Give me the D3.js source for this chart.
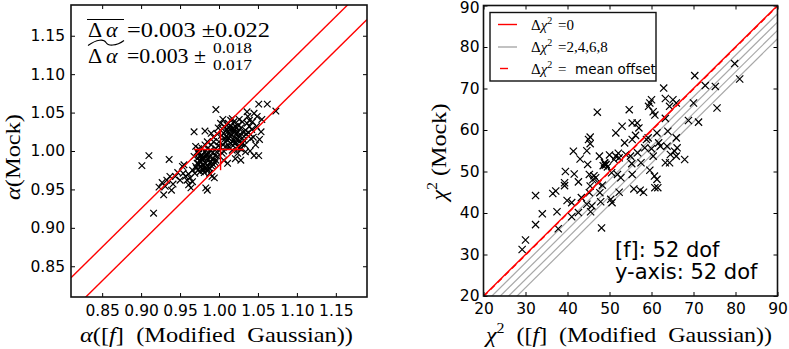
<!DOCTYPE html>
<html><head><meta charset="utf-8">
<script src="https://cdn.jsdelivr.net/npm/d3@7"></script>
<style>body{margin:0;background:#fff} svg{display:block}</style>
</head><body><svg id="c" width="789" height="349"></svg>
<script>
// ---------- DATA ----------
const alphaFG = [0.901,0.910,0.916,0.923,0.929,0.936,0.939,0.933,0.937,0.927,0.931,0.953,0.955,0.954,0.957,0.959,0.961,0.964,0.966,0.963,
0.968,0.982,0.983,0.985,0.996,0.970,0.972,0.974,0.976,0.979,0.972,0.976,0.981,0.983,0.985,0.987,0.989,0.991,0.994,0.988,
0.968,0.970,0.973,0.976,0.979,0.975,0.978,0.982,0.985,0.990,0.993,0.980,0.984,0.988,0.992,0.995,0.997,0.991,0.986,0.995,
1.002,1.004,1.006,1.009,1.011,1.013,1.015,1.017,1.019,1.021,1.024,1.026,1.019,1.021,1.024,1.028,1.030,1.032,1.034,1.036,
1.039,1.043,1.039,1.049,1.045,1.036,1.051,1.062,1.073,1.054,1.047,1.045,1.051,1.021,1.028,1.034,1.041,1.015,1.011,1.006,
1.004,0.998,0.996,1.009,1.015,1.017,1.024,1.008,1.012,1.016,1.020,1.023,1.027,1.031,1.028,1.025,1.010,1.007,1.003,1.000,
1.002,1.005,1.013,1.018,1.022,1.030,1.037,1.026,1.033,1.040,1.038,1.042,1.019,1.012,1.005,0.999,0.998,0.993,0.990,0.985,
0.982,0.978,0.974,0.980,0.984,0.988,0.992,0.996,0.999,0.961,0.966,0.969,0.944,0.947,0.950,0.941,1.048,1.055,1.044,1.052,
0.971,0.974,0.977,0.980,0.983,0.986,0.973,0.978,0.981,0.987,0.990,0.993,0.977,0.984,1.008,1.011,1.014,1.017,1.020,1.023,
1.026,1.029,1.014,1.018,1.022,1.026,1.010,1.032,1.035,1.006];
const alphaMock = [0.981,0.994,0.919,0.953,0.943,0.989,0.949,0.962,0.967,0.959,0.954,0.980,0.982,0.971,0.967,0.962,0.956,0.952,0.960,0.965,
1.025,1.026,0.952,0.949,1.054,1.006,0.999,1.003,0.993,0.988,0.984,0.980,0.978,0.984,0.990,0.997,1.001,0.967,0.965,0.971,
0.993,0.980,0.975,0.973,0.982,0.987,0.995,0.999,1.003,1.008,1.012,0.975,0.978,0.985,0.990,0.994,0.999,0.980,0.975,0.985,
1.036,1.029,1.023,1.019,1.014,1.023,1.032,1.042,1.038,1.032,1.025,1.021,1.014,1.010,1.006,1.003,1.010,1.019,1.027,1.036,
1.040,1.038,1.032,1.045,1.049,1.051,1.061,1.061,1.052,1.025,1.008,0.994,0.994,0.990,0.988,0.999,1.016,1.040,0.984,0.988,
0.997,0.993,0.988,1.006,1.010,1.001,0.997,1.012,1.017,1.021,1.018,1.015,1.013,1.024,1.030,1.034,1.028,1.032,1.020,1.012,
1.005,1.008,1.005,1.007,1.022,1.038,1.045,1.041,1.008,1.000,1.024,1.028,1.027,1.036,1.041,1.030,1.022,1.018,1.023,1.012,
1.008,1.004,0.997,0.992,0.996,0.992,0.998,1.003,1.007,0.970,0.975,0.971,0.967,0.972,0.962,0.957,1.032,1.041,1.018,1.015,
0.978,0.983,0.986,0.990,0.993,0.980,0.991,0.977,0.972,0.978,0.986,0.982,0.990,0.994,1.016,1.025,1.028,1.012,1.024,1.030,
1.018,1.009,1.020,1.030,1.011,1.004,1.034,1.014,1.022,1.000];
const alphaTicks = [0.85,0.90,0.95,1.00,1.05,1.10,1.15];
const alphaDomain = [0.81,1.19];
const alphaMeanOffset = 0.003, alphaSpread = 0.022;
const alphaCross = {x:1.002, y:1.002, xLo:0.968, xHi:1.032, yLo:0.975, yHi:1.028};

const chiFG = [29.2,30.0,32.4,32.4,34.0,36.5,37.2,37.8,37.5,39.3,39.5,39.9,39.3,41.0,41.0,41.4,41.6,42.6,42.6,43.0,
43.3,45.0,45.4,45.4,44.6,44.8,45.2,45.4,45.2,45.8,45.5,44.6,46.3,46.7,47.1,47.6,47.7,47.9,48.1,48.3,
47.3,48.8,49.2,49.5,48.5,50.5,50.3,50.6,51.1,51.5,51.5,52.1,52.3,51.9,52.7,52.3,53.0,53.6,53.9,54.7,
55.0,55.3,55.4,55.4,55.4,55.8,56.2,56.6,56.7,57.0,57.3,57.5,58.1,58.4,58.8,59.2,59.3,59.6,60.0,59.6,
60.0,60.4,60.4,60.7,60.8,61.3,61.5,60.8,61.3,61.7,62.1,62.9,63.3,63.3,63.3,63.7,63.9,64.3,64.3,64.5,
65.1,65.9,65.9,65.5,65.9,66.1,67.9,68.8,70.0,70.3,71.2,72.8,75.2,75.6,79.8,81.0,48.9,49.0,46.0,50.0];
const chiMock = [31.2,33.5,44.2,37.2,39.8,44.7,45.3,36.2,40.3,47.3,50.0,43.0,46.6,42.5,39.1,54.9,49.4,47.5,40.1,53.0,
43.7,57.7,58.3,56.7,55.0,51.7,49.3,46.5,44.9,41.7,40.3,42.1,49.0,48.5,64.3,53.7,44.9,42.7,36.4,46.7,
47.3,52.1,51.7,51.1,51.4,49.7,43.3,42.5,52.9,53.7,59.3,54.4,53.3,49.3,48.5,45.0,60.9,56.9,54.1,64.9,
53.7,51.9,49.3,61.7,57.7,45.8,58.7,61.7,54.5,60.5,45.5,52.1,45.0,55.7,57.7,58.1,65.7,66.5,67.3,50.3,
55.5,64.4,53.7,48.9,46.1,48.1,46.1,63.6,59.3,56.9,56.1,70.1,62.8,67.6,52.1,56.1,59.7,65.7,52.1,54.1,
67.3,66.5,58.1,54.9,53.7,55.7,52.9,62.3,66.5,73.1,61.9,70.7,70.5,65.3,76.0,72.3,52.0,51.5,48.0,54.0];
const chiTicks = [20,30,40,50,60,70,80,90];
const chiDomain = [20,90];
const chiOffsets = [2,4,6,8];
const chiMeanOffset = -0.15;

// ---------- DRAW ----------
const svg = d3.select("#c");
const TICKFONT = "'DejaVu Sans', sans-serif";
const SERIF = "'Liberation Serif', 'DejaVu Serif', serif";

function panel(cfg){
  const g = svg.append("g");
  const x = d3.scaleLinear(cfg.domain, [cfg.x0, cfg.x1]);
  const y = d3.scaleLinear(cfg.domain, [cfg.y1, cfg.y0]);
  const id = "clip" + cfg.name;
  svg.append("clipPath").attr("id", id).append("rect")
    .attr("x", cfg.x0).attr("y", cfg.y0).attr("width", cfg.x1-cfg.x0).attr("height", cfg.y1-cfg.y0);
  const plot = g.append("g").attr("clip-path", `url(#${id})`);
  const fmt = cfg.fmt;
  const ax = [
    [d3.axisBottom(x).tickValues(cfg.ticks).tickFormat(fmt).tickSize(-4).tickPadding(cfg.padB), `translate(0,${cfg.y1})`, "b"],
    [d3.axisTop(x).tickValues(cfg.ticks).tickFormat("").tickSize(-4), `translate(0,${cfg.y0})`, "t"],
    [d3.axisLeft(y).tickValues(cfg.ticks).tickFormat(fmt).tickSize(-4).tickPadding(cfg.padL), `translate(${cfg.x0},0)`, "l"],
    [d3.axisRight(y).tickValues(cfg.ticks).tickFormat("").tickSize(-4), `translate(${cfg.x1},0)`, "r"]
  ];
  ax.forEach(([a,t,side])=>{
    const ag = g.append("g").attr("transform", t).call(a);
    ag.select(".domain").remove();
    ag.selectAll("line").attr("stroke","#000").attr("stroke-width",1);
    ag.selectAll("text").attr("font-family", TICKFONT).attr("font-size", cfg.tickSize).attr("fill","#000");
    if(side==="l" && cfg.topNudge){
      ag.selectAll(".tick").filter(d=>d===cfg.domain[1]).select("text").attr("dy","0.42em");
    }
  });
  return {g, plot, x, y};
}

function crosses(plot, x, y, xs, ys, s){
  plot.append("g").selectAll("path").data(xs.map((v,i)=>[v, ys[i]])).join("path")
    .attr("d", d=>{const cx=x(d[0]), cy=y(d[1]); return `M${cx-s},${cy-s}L${cx+s},${cy+s}M${cx-s},${cy+s}L${cx+s},${cy-s}`;})
    .attr("stroke","#000").attr("stroke-width",1.2).attr("fill","none");
}

// ----- Left panel -----
const L = panel({name:"L", domain:alphaDomain, x0:71, x1:367, y0:5, y1:297, ticks:alphaTicks,
  fmt:d3.format(".2f"), padB:8, padL:6, tickSize:"15.5px"});
crosses(L.plot, L.x, L.y, alphaFG, alphaMock, 3.3);
[alphaMeanOffset+alphaSpread, alphaMeanOffset-alphaSpread].forEach(off=>{
  L.plot.append("line")
    .attr("x1", L.x(alphaDomain[0])).attr("y1", L.y(alphaDomain[0]+off))
    .attr("x2", L.x(alphaDomain[1])).attr("y2", L.y(alphaDomain[1]+off))
    .attr("stroke","red").attr("stroke-width",1.4);
});
L.plot.append("line").attr("x1",L.x(alphaCross.xLo)).attr("x2",L.x(alphaCross.xHi))
  .attr("y1",L.y(alphaCross.y)).attr("y2",L.y(alphaCross.y)).attr("stroke","red").attr("stroke-width",1.4);
L.plot.append("line").attr("x1",L.x(alphaCross.x)).attr("x2",L.x(alphaCross.x))
  .attr("y1",L.y(alphaCross.yLo)).attr("y2",L.y(alphaCross.yHi)).attr("stroke","red").attr("stroke-width",1.4);
L.g.append("rect").attr("x",71).attr("y",5).attr("width",296).attr("height",292)
  .attr("fill","none").attr("stroke","#111").attr("stroke-width",1.6);

// annotation text
const ann = L.g.append("g").attr("font-family", SERIF).attr("fill","#000");
function da(yb){
  ann.append("text").attr("x",88).attr("y",yb).attr("font-size","22px").text("Δ");
  ann.append("text").attr("x",106).attr("y",yb).attr("font-size","22px").attr("font-style","italic").text("α");
}
da(37); da(63);
ann.append("line").attr("x1",87).attr("x2",124).attr("y1",19.5).attr("y2",19.5).attr("stroke","#000").attr("stroke-width",1.2);
ann.append("path").attr("d","M88,45.5 C97,39 104,39 106,42.5 C108,46 116,46.5 124,40.5")
  .attr("fill","none").attr("stroke","#000").attr("stroke-width",1.1);
ann.append("text").attr("x",127).attr("y",37).attr("font-size","21px")
  .attr("textLength",143).attr("lengthAdjust","spacingAndGlyphs").text("=0.003 ±0.022");
ann.append("text").attr("x",127).attr("y",63).attr("font-size","21px")
  .attr("textLength",79).attr("lengthAdjust","spacingAndGlyphs").text("=0.003 ±");
ann.append("text").attr("x",213).attr("y",53).attr("font-size","14px")
  .attr("textLength",39).attr("lengthAdjust","spacingAndGlyphs").text("0.018");
ann.append("text").attr("x",213).attr("y",70).attr("font-size","14px")
  .attr("textLength",39).attr("lengthAdjust","spacingAndGlyphs").text("0.017");

// axis labels
const lx = svg.append("text").attr("x",80).attr("y",342)
  .attr("font-family",SERIF).attr("font-size","21px")
  .attr("textLength",273).attr("lengthAdjust","spacingAndGlyphs");
lx.append("tspan").attr("font-style","italic").text("α");
lx.append("tspan").text("([");
lx.append("tspan").attr("font-style","italic").text("f");
lx.append("tspan").text("]\u2002(Modified\u2002Gaussian))");
const ly = svg.append("text").attr("transform","translate(20,157) rotate(-90)").attr("text-anchor","middle")
  .attr("font-family",SERIF).attr("font-size","22px")
  .attr("textLength",86).attr("lengthAdjust","spacingAndGlyphs");
ly.append("tspan").attr("font-style","italic").text("α");
ly.append("tspan").text("(Mock)");

// ----- Right panel -----
const R = panel({name:"R", domain:chiDomain, x0:483.5, x1:777.5, y0:5.5, y1:296, ticks:chiTicks,
  fmt:d3.format("d"), padB:7, padL:4, tickSize:"15.5px", topNudge:true});
chiOffsets.forEach(k=>{
  R.plot.append("line")
    .attr("x1",R.x(chiDomain[0])).attr("y1",R.y(chiDomain[0]-k))
    .attr("x2",R.x(chiDomain[1])).attr("y2",R.y(chiDomain[1]-k))
    .attr("stroke","#a8a8a8").attr("stroke-width",1.2);
});
crosses(R.plot, R.x, R.y, chiFG, chiMock, 3.6);
R.plot.append("line")
  .attr("x1",R.x(chiDomain[0])).attr("y1",R.y(chiDomain[0]))
  .attr("x2",R.x(chiDomain[1])).attr("y2",R.y(chiDomain[1]))
  .attr("stroke","red").attr("stroke-width",1.4);
R.plot.append("line")
  .attr("x1",R.x(chiDomain[0])).attr("y1",R.y(chiDomain[0]+chiMeanOffset))
  .attr("x2",R.x(chiDomain[1])).attr("y2",R.y(chiDomain[1]+chiMeanOffset))
  .attr("stroke","red").attr("stroke-width",1.3).attr("stroke-dasharray","6,4");
R.g.append("rect").attr("x",483.5).attr("y",5.5).attr("width",294).attr("height",290.5)
  .attr("fill","none").attr("stroke","#111").attr("stroke-width",1.6);

// legend
const leg = R.g.append("g");
leg.append("rect").attr("x",490).attr("y",12.5).attr("width",166).attr("height",68.5)
  .attr("fill","#fff").attr("stroke","#111").attr("stroke-width",1.4);
const legItems = [
  {color:"red", dash:false, rest:"=0", sans:false, yy:24.5},
  {color:"#a8a8a8", dash:false, rest:"=2,4,6,8", sans:false, yy:47},
  {color:"red", dash:true, rest:"= ", sans:true, yy:68.5}
];
legItems.forEach(it=>{
  leg.append("line").attr("x1", it.dash?500:498).attr("x2", it.dash?508:517)
    .attr("y1",it.yy).attr("y2",it.yy).attr("stroke",it.color).attr("stroke-width",1.4);
  const t = leg.append("text").attr("x",531).attr("y",it.yy+5).attr("font-family",SERIF).attr("font-size","15px");
  t.append("tspan").text("Δ");
  t.append("tspan").attr("font-style","italic").text("χ");
  t.append("tspan").attr("font-size","10px").attr("dy",-6).text("2");
  t.append("tspan").attr("x",558).attr("dy",6).text(it.rest);
  if(it.sans){
    leg.append("text").attr("x",575).attr("y",it.yy+5).attr("font-family",TICKFONT)
      .attr("font-size","13.5px").text("mean offset");
  }
});

// dof text
const dof = R.g.append("g").attr("font-family",TICKFONT).attr("font-size","21px");
dof.append("text").attr("x",615).attr("y",257).text("[f]: 52 dof");
dof.append("text").attr("x",615).attr("y",279).text("y-axis: 52 dof");

// axis labels
const rx = svg.append("text").attr("x",486).attr("y",342)
  .attr("font-family",SERIF).attr("font-size","21px")
  .attr("textLength",286).attr("lengthAdjust","spacingAndGlyphs");
rx.append("tspan").attr("font-style","italic").text("χ");
rx.append("tspan").attr("font-size","14px").attr("dy",-9).text("2");
rx.append("tspan").attr("dy",9).text("\u2002([");
rx.append("tspan").attr("font-style","italic").text("f");
rx.append("tspan").text("]\u2002(Modified\u2002Gaussian))");
const ry = svg.append("text").attr("transform","translate(446,152) rotate(-90)").attr("text-anchor","middle")
  .attr("font-family",SERIF).attr("font-size","22px")
  .attr("textLength",97).attr("lengthAdjust","spacingAndGlyphs");
ry.append("tspan").attr("font-style","italic").text("χ");
ry.append("tspan").attr("font-size","14px").attr("dy",-9).text("2");
ry.append("tspan").attr("dy",9).text(" (Mock)");
</script></body></html>
